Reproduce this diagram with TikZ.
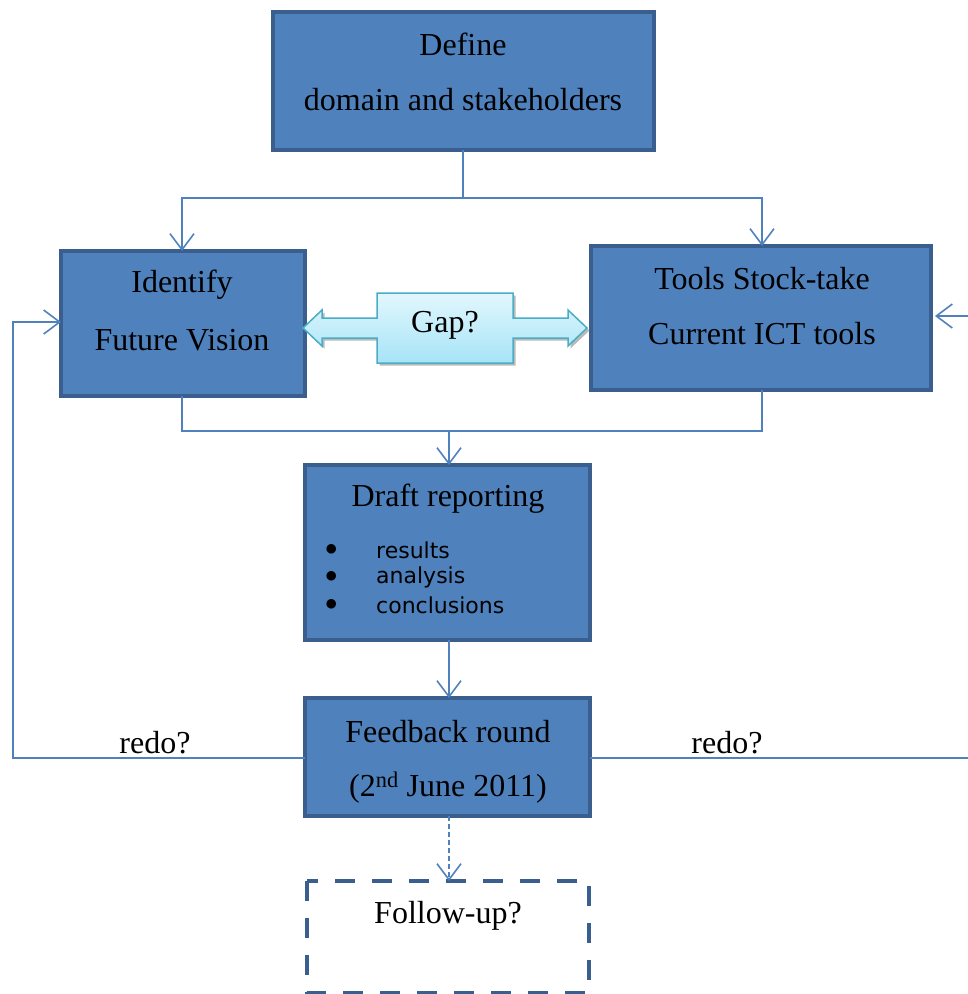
\documentclass[tikz,border=0pt]{standalone}
\usepackage{fontspec}
\setmainfont{Liberation Serif}
\newfontfamily\listfont{DejaVu Sans}
\usetikzlibrary{arrows.meta,calc}

\definecolor{boxfill}{HTML}{4F81BD}
\definecolor{boxline}{HTML}{3A5F8E}
\definecolor{linkcol}{HTML}{4F81BD}
\definecolor{gaptop}{HTML}{E2F7FD}
\definecolor{gapbot}{HTML}{A6E4F7}
\definecolor{gapline}{HTML}{4BACC6}

\tikzset{
  x=1pt, y=-1pt,
  stagebox/.style={draw=boxline, line width=4pt, fill=boxfill},
  txt/.style={font=\fontsize{32}{38}\selectfont, inner sep=0pt},
  listtxt/.style={font=\listfont\fontsize{22}{26}\selectfont, inner sep=0pt, anchor=west},
  link/.style={draw=linkcol, line width=1.6pt, -{Straight Barb[length=16pt,width=24pt,line width=1.6pt]}},
  plainlink/.style={draw=linkcol, line width=1.6pt},
}

\begin{document}
\begin{tikzpicture}
\useasboundingbox (0,0) rectangle (968,994);

% stage boxes
\draw[stagebox] (273,12) rectangle (654,150);
\coordinate (defS) at (463,150);
\draw[stagebox] (61,251) rectangle (305,396);
\coordinate (idN) at (182,251); \coordinate (idS) at (182,396); \coordinate (idW) at (61,322);
\draw[stagebox] (591,246) rectangle (931,390);
\coordinate (toN) at (762,246); \coordinate (toS) at (762,390); \coordinate (toE) at (931,316);
\draw[stagebox] (305,465) rectangle (590,640);
\coordinate (drN) at (449,465); \coordinate (drS) at (449,640);
\draw[stagebox] (305,698) rectangle (590,816);
\coordinate (feN) at (449,698); \coordinate (feS) at (449,816);
\coordinate (feW) at (305,758); \coordinate (feE) at (590,758);
\draw[draw=boxline, line width=4pt, dash pattern=on 20pt off 17pt] (307,881) rectangle (589,993);
\coordinate (fuN) at (449,881);

% labels
\node[txt] (t1) at (463,44) {Define};
\node[txt] (t2) at (463,100) {domain and stakeholders};
\node[txt] (t3) at (182,285) {Identify};
\node[txt] (t4) at (182,340) {Future Vision};
\node[txt] (t5) at (762,279) {Tools Stock-take};
\node[txt] (t6) at (762,334) {Current ICT tools};
\node[txt] (t7) at (448,499) {Draft reporting};
\node[listtxt, font=\fontsize{26}{30}\selectfont] (b1) at (325,550) {$\bullet$};
\node[listtxt, font=\fontsize{26}{30}\selectfont] (b2) at (325,577) {$\bullet$};
\node[listtxt, font=\fontsize{26}{30}\selectfont] (b3) at (325,605) {$\bullet$};
\node[listtxt] (l1) at (376,550) {results};
\node[listtxt] (l2) at (376,577) {analysis};
\node[listtxt] (l3) at (376,605) {conclusions};
\node[txt] (t8) at (448,732) {Feedback round};
\node[txt] (t9) at (448,788) {(2\textsuperscript{nd} June 2011)};
\node[txt] (t10) at (448,916) {Follow-up?};
\node[txt] (r1) at (155,743) {redo?};
\node[txt] (r2) at (727,743) {redo?};

% connectors
\coordinate (splitA) at (463,198);
\draw[plainlink] (defS) -- (splitA);
\draw[link] (splitA) -| (idN);
\draw[link] (splitA) -| (toN);
\coordinate (joinA) at (449,431);
\draw[plainlink] (idS) |- (joinA);
\draw[plainlink] (toS) |- (joinA);
\draw[link] (joinA) -- (drN);
\draw[link] (drS) -- (feN);
\draw[link, dash pattern=on 5pt off 3pt] (feS) -- (fuN);
\coordinate (leftRet) at (13,322);
\draw[link] (feW) -| (leftRet) -- (idW);
\coordinate (rightRet) at (971,316);
\draw[link] (feE) -| (rightRet) -- ([xshift=4pt]toE);

% gap double arrow
\def\gapshape{(303,328) -- (322,310) -- (322,318) -- (377,318) -- (377,293) -- (513,293) -- (513,318) -- (568,318) -- (568,310) -- (587,328) -- (568,346) -- (568,338) -- (513,338) -- (513,363) -- (377,363) -- (377,338) -- (322,338) -- (322,346) -- cycle}
\fill[black!45, opacity=0.6, shift={(2.5,2.5)}] \gapshape;
\draw[draw=gapline, line width=1.5pt, top color=gaptop, bottom color=gapbot] \gapshape;
\node[txt] (gap) at (445,325) {Gap?};
\end{tikzpicture}
\end{document}
